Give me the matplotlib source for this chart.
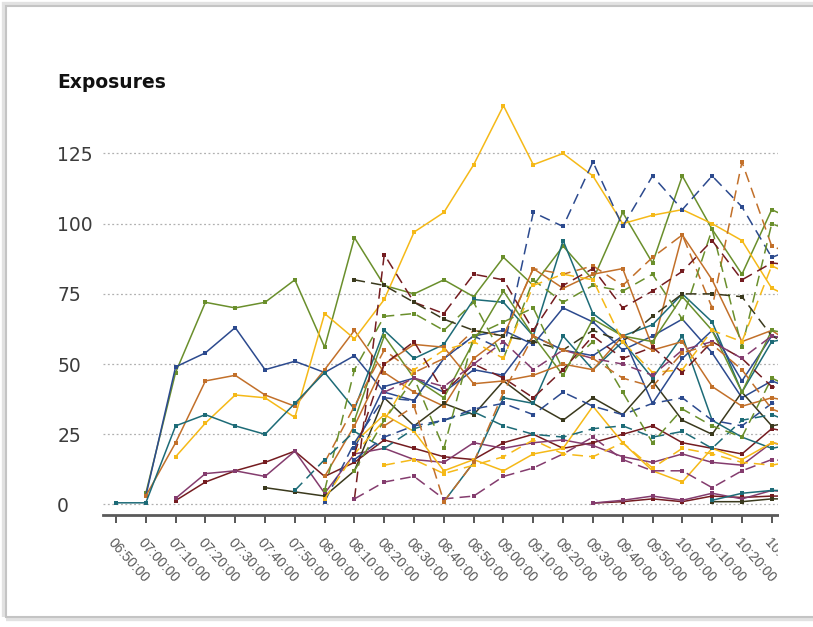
import numpy as np
import matplotlib
matplotlib.use("Agg")
import matplotlib.pyplot as plt
from matplotlib.patches import Rectangle
from matplotlib.transforms import Bbox, TransformedBbox

# time slots (the last one lies past the clipped right edge)
times = [
    "06:50:00", "07:00:00", "07:10:00", "07:20:00", "07:30:00", "07:40:00",
    "07:50:00", "08:00:00", "08:10:00", "08:20:00", "08:30:00", "08:40:00",
    "08:50:00", "09:00:00", "09:10:00", "09:20:00", "09:30:00", "09:40:00",
    "09:50:00", "10:00:00", "10:10:00", "10:20:00", "10:30:00", "10:40:00",
]
N = None

# solid, early starters
green_a = [N, 4, 47, 72, 70, 72, 80, 56, 95, 78, 75, 80, 74, 88, 78, 92, 80, 104, 86, 117, 98, 82, 105, 100]
blue_a = [N, 3, 49, 54, 63, 48, 51, 47, 53, 40, 37, 52, 60, 62, 57, 70, 65, 55, 60, 66, 54, 38, 44, 40]
orange_a = [N, 3, 22, 44, 46, 39, 35, 48, 62, 47, 40, 35, 52, 60, 84, 77, 82, 84, 56, 96, 80, 58, 62, 55]
yellow_a = [N, N, 17, 29, 39, 38, 31, 68, 59, 73, 97, 104, 121, 142, 121, 125, 117, 100, 103, 105, 100, 94, 77, 72]
teal_a = [0.6, 0.6, 28, 32, 28, 25, 36, 47, 34, 62, 52, 57, 73, 72, 60, 94, 68, 60, 64, 75, 65, 40, 58, 60]
maroon_a = [N, N, 1.4, 8, 12, 15, 19, 10, 15, 23, 20, 17, 16, 22, 25, 20, 22, 25, 28, 22, 20, 18, 27, 25]
plum_a = [N, N, 2.2, 11, 12, 10, 19, 4, 18, 20, 16, 15, 22, 20, 22, 23, 21, 17, 15, 18, 15, 14, 22, 20]
olive_a = [N, N, N, N, N, 6, 4.5, 3, 12, 38, 28, 36, 32, 44, 36, 30, 38, 32, 44, 30, 25, 40, 28, 30]

# dashed
blue_b = [N, N, N, N, N, N, N, 1, 22, 38, 37, 52, 60, 55, 104, 99, 122, 99, 117, 105, 117, 106, 88, 92]
orange_b = [N, N, N, N, N, N, N, 15, 35, 55, 47, 52, 62, 60, 84, 82, 85, 78, 88, 96, 70, 122, 92, 88]
green_b = [N, N, N, N, N, N, N, 5, 48, 67, 68, 62, 72, 52, 80, 72, 78, 76, 82, 66, 98, 56, 100, 96]
maroon_b = [N, N, N, N, N, N, N, N, 2, 89, 72, 68, 82, 80, 62, 78, 84, 70, 76, 83, 94, 80, 86, 85]
olive_b = [N, N, N, N, N, N, N, N, 80, 78, 72, 66, 62, 60, 58, 55, 62, 58, 67, 75, 75, 74, 60, 55]
yellow_b = [N, N, N, N, N, N, N, 2, 18, 30, 48, 55, 58, 52, 78, 82, 80, 58, 47, 48, 62, 58, 85, 80]
teal_b = [N, N, N, N, N, N, 5, 16, 26, 20, 27, 30, 33, 28, 25, 24, 27, 28, 24, 26, 20, 30, 32, 28]
plum_b = [N, N, N, N, N, N, N, N, 2, 8, 10, 2, 3, 10, 13, 18, 24, 16, 12, 12, 6, 12, 16, 15]

# solid, later starters
teal_c = [N, N, N, N, N, N, N, N, N, N, N, 1, 15, 38, 36, 60, 48, 58, 45, 60, 30, 24, 20, 22]
maroon_c = [N, N, N, N, N, N, N, N, N, N, N, N, N, N, N, N, 0.5, 1, 2, 1, 3, 2.5, 3, 3]
plum_c = [N, N, N, N, N, N, N, N, N, N, N, N, N, N, N, N, 0.5, 1.5, 3, 1.5, 4, 2, 5, 4]
olive_c = [N, N, N, N, N, N, N, N, N, N, N, N, N, N, N, N, N, N, N, N, 1, 1, 2, 2]
teal_c2 = [N, N, N, N, N, N, N, N, N, N, N, N, N, N, N, N, N, N, N, N, 1.5, 4, 5, 5]
blue_c = [N, N, N, N, N, N, N, N, 20, 42, 45, 40, 48, 46, 60, 55, 53, 60, 36, 52, 62, 44, 60, 58]
green_c = [N, N, N, N, N, N, N, N, 30, 60, 45, 38, 58, 76, 60, 46, 66, 60, 58, 74, 62, 40, 62, 60]
orange_c = [N, N, N, N, N, N, N, 10, 28, 50, 57, 56, 43, 44, 46, 50, 48, 60, 55, 58, 42, 35, 38, 36]
yellow_c = [N, N, N, N, N, N, N, N, 22, 32, 26, 12, 16, 12, 18, 20, 35, 22, 12, 8, 20, 16, 22, 20]

# dashed, later starters
blue_d = [N, N, N, N, N, N, N, N, 16, 24, 28, 30, 34, 36, 32, 40, 35, 32, 36, 38, 30, 28, 36, 34]
green_d = [N, N, N, N, N, N, N, N, 12, 30, 45, 20, 60, 65, 70, 48, 58, 40, 22, 34, 28, 24, 45, 40]
maroon_d = [N, N, N, N, N, N, N, N, 18, 50, 58, 40, 50, 45, 38, 48, 60, 52, 56, 47, 58, 52, 42, 40]
yellow_d = [N, N, N, N, N, N, N, N, N, 14, 16, 11, 14, 17, 23, 18, 17, 22, 13, 20, 18, 15, 14, 16]
plum_d = [N, N, N, N, N, N, N, N, N, 40, 45, 42, 50, 58, 48, 55, 52, 50, 46, 55, 58, 52, 60, 58]
orange_d = [N, N, N, N, N, N, N, N, N, 28, 35, 1, 15, 40, 60, 55, 52, 45, 42, 54, 57, 48, 34, 30]

COLORS = {
    "blue": "#2c4a8e", "green": "#6a8f2c", "orange": "#c2702a", "yellow": "#f5b918",
    "teal": "#1d6b77", "maroon": "#741c20", "plum": "#843c6e", "olive": "#3a391d",
}

SERIES = [
    (green_a, "green", False), (blue_a, "blue", False), (orange_a, "orange", False),
    (yellow_a, "yellow", False), (teal_a, "teal", False), (maroon_a, "maroon", False),
    (plum_a, "plum", False), (olive_a, "olive", False),
    (teal_c, "teal", False), (maroon_c, "maroon", False), (plum_c, "plum", False),
    (olive_c, "olive", False), (teal_c2, "teal", False), (blue_c, "blue", False),
    (green_c, "green", False), (orange_c, "orange", False), (yellow_c, "yellow", False),
    (blue_b, "blue", True), (orange_b, "orange", True), (green_b, "green", True),
    (maroon_b, "maroon", True), (olive_b, "olive", True), (yellow_b, "yellow", True),
    (teal_b, "teal", True), (plum_b, "plum", True),
    (blue_d, "blue", True), (green_d, "green", True), (maroon_d, "maroon", True),
    (yellow_d, "yellow", True), (plum_d, "plum", True), (orange_d, "orange", True),
]

W, H = 813, 627
fig = plt.figure(figsize=(W / 100, H / 100), dpi=100)
fig.patch.set_facecolor("white")

# screenshot frame with soft shadow (drawn beneath the axes)
fig.add_artist(Rectangle((6 / W, 1 - 617 / H), 900 / W, 611 / H, transform=fig.transFigure,
                         facecolor="none", edgecolor="#e2e2e2", linewidth=6, zorder=-10))
fig.add_artist(Rectangle((6 / W, 1 - 617 / H), 900 / W, 611 / H, transform=fig.transFigure,
                         facecolor="white", edgecolor="#c4c4c4", linewidth=1.5, zorder=-9))

ax = fig.add_axes([103 / W, 112 / H, 675 / W, 417.7 / H])
ax.set_zorder(1)
ax.set_facecolor("none")

x = np.arange(len(times))
for vals, ckey, dashed in SERIES:
    y = np.array([np.nan if v is None else v for v in vals], dtype=float)
    ax.plot(x, y, color=COLORS[ckey], lw=1.1,
            linestyle=(0, (7, 4)) if dashed else "-",
            marker="s", markersize=3, markeredgewidth=0, zorder=3)

ax.set_xlim(-0.436, 22.21)
ax.set_ylim(-3.74, 145)
ax.set_yticks([0, 25, 50, 75, 100, 125])
ax.yaxis.grid(True, color="#b0b0b0", linestyle=(0, (1.5, 2)), linewidth=0.9, zorder=1)
ax.set_axisbelow(True)

for side in ("top", "right", "left"):
    ax.spines[side].set_visible(False)
ax.spines["bottom"].set_color("#5a5a5a")
ax.spines["bottom"].set_linewidth(2)

ax.tick_params(axis="y", length=0, pad=33, labelsize=13.5, labelcolor="#3c3c3c")
for lbl in ax.get_yticklabels():
    lbl.set_horizontalalignment("left")

# only the slots up to 10:30 get ticks; the chart is cut off just after it
ax.set_xticks(x[:-1])
ax.set_xticklabels(times[:-1], rotation=-48, ha="left", va="top", rotation_mode="anchor",
                   fontsize=10, color="#5a5a5a", fontfamily="Liberation Sans")
ax.tick_params(axis="x", direction="out", length=6, width=1.3, color="#4a4a4a", pad=9)

clip = TransformedBbox(Bbox([[0, 0], [778 / W, 1]]), fig.transFigure)
for lbl in ax.get_xticklabels():
    lbl.set_clip_on(True)
    lbl.set_clip_box(clip)

fig.text(57 / W, 1 - 88 / H, "Exposures", fontsize=13.5, fontweight="bold",
         color="#111111", ha="left", va="baseline")

# the original chart is cut off on the right
fig.add_artist(Rectangle((779 / W, 1 - 612 / H), 40 / W, 100 / H, transform=fig.transFigure,
                         facecolor="white", edgecolor="none", zorder=10))

fig.savefig("out.png", dpi=100)
plt.close(fig)
